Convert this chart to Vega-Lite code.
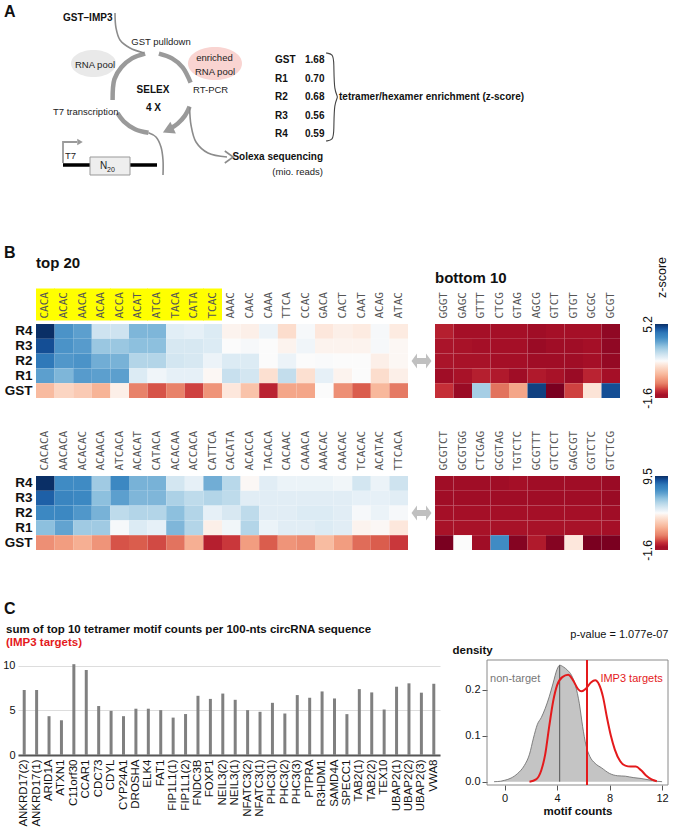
{
"$schema": "https://vega.github.io/schema/vega-lite/v6.json",
"padding": 0,
"background": "white",
"columns": 6,
"align": "none",
"bounds": "flush",
"spacing": {"row": 78, "column": 0},
"resolve": {"scale": {"color": "independent"}},
"config": {"view": {"stroke": null}, "font": "Liberation Sans", "axis": {"labelFont": "Liberation Sans", "titleFont": "Liberation Sans", "labelColor": "#111", "titleColor": "#111"}, "title": {"font": "Liberation Sans", "color": "#111"}},
"datasets": {
"t20a": [
{"round":"R4","CACA":5.2,"ACAC":3.84,"AACA":3.64,"ACAA":2.41,"ACCA":2.41,"ACAT":3.30,"ATCA":3.30,"TACA":2.14,"CATA":2.07,"TCAC":2.21,"AAAC":1.66,"CAAC":1.60,"CAAA":2.00,"TTCA":1.26,"CCAC":1.87,"GACA":1.46,"CACT":1.60,"CAAT":1.53,"ACAG":1.87,"ATAC":1.53},
{"round":"R3","CACA":4.86,"ACAC":3.84,"AACA":3.70,"ACAA":3.02,"ACCA":3.02,"ACAT":3.16,"ATCA":3.16,"TACA":2.28,"CATA":2.28,"TCAC":2.21,"AAAC":1.80,"CAAC":1.87,"CAAA":1.80,"TTCA":1.66,"CCAC":1.94,"GACA":1.66,"CACT":1.66,"CAAT":1.66,"ACAG":1.87,"ATAC":1.73},
{"round":"R2","CACA":4.38,"ACAC":3.77,"AACA":3.84,"ACAA":3.43,"ACCA":3.36,"ACAT":2.75,"ATCA":2.75,"TACA":2.34,"CATA":2.28,"TCAC":2.00,"AAAC":2.21,"CAAC":2.21,"CAAA":1.80,"TTCA":2.00,"CCAC":1.80,"GACA":1.83,"CACT":1.80,"CAAT":1.80,"ACAG":1.60,"ATAC":1.73},
{"round":"R1","CACA":3.64,"ACAC":3.30,"AACA":3.70,"ACAA":3.64,"ACCA":3.64,"ACAT":2.21,"ATCA":1.94,"TACA":2.07,"CATA":2.07,"TCAC":1.73,"AAAC":2.48,"CAAC":2.34,"CAAA":1.32,"TTCA":2.55,"CCAC":1.32,"GACA":2.07,"CACT":1.66,"CAAT":1.80,"ACAG":1.26,"ATAC":1.60},
{"round":"GST","CACA":0.64,"ACAC":1.12,"AACA":0.92,"ACAA":0.51,"ACCA":1.60,"ACAT":-0.24,"ATCA":-0.65,"TACA":-0.24,"CATA":-0.78,"TCAC":0.03,"AAAC":1.46,"CAAC":0.78,"CAAA":-1.06,"TTCA":0.30,"CCAC":0.30,"GACA":1.80,"CACT":-0.04,"CAAT":-0.58,"ACAG":0.58,"ATAC":-0.31}
],
"b10a": [
{"round":"R4","GGGT":-1.12,"GAGC":-1.33,"GTTT":-1.33,"CTCG":-1.33,"GTAG":-1.33,"AGCG":-1.36,"GTCT":-1.33,"GTGT":-1.33,"GCGC":-1.33,"GCGT":-1.46},
{"round":"R3","GGGT":-1.26,"GAGC":-1.29,"GTTT":-1.33,"CTCG":-1.33,"GTAG":-1.33,"AGCG":-1.40,"GTCT":-1.36,"GTGT":-1.36,"GCGC":-1.33,"GCGT":-1.46},
{"round":"R2","GGGT":-1.26,"GAGC":-1.29,"GTTT":-1.29,"CTCG":-1.33,"GTAG":-1.33,"AGCG":-1.36,"GTCT":-1.36,"GTGT":-1.36,"GCGC":-1.33,"GCGT":-1.43},
{"round":"R1","GGGT":-1.36,"GAGC":-1.29,"GTTT":-1.12,"CTCG":-1.19,"GTAG":-1.36,"AGCG":-1.19,"GTCT":-1.29,"GTGT":-1.40,"GCGC":-1.06,"GCGT":-1.33},
{"round":"GST","GGGT":-0.92,"GAGC":-1.40,"GTTT":2.89,"CTCG":-0.38,"GTAG":0.30,"AGCG":5.00,"GTCT":-1.60,"GTGT":-0.78,"GCGC":1.39,"GCGT":4.86}
],
"t20b": [
{"round":"R4","CACACA":9.5,"AACACA":7.50,"ACACAC":7.50,"ACAACA":5.84,"ATCACA":7.61,"ACACAT":6.50,"CATACA":6.50,"ACACAA":4.84,"ACCACA":4.39,"CATTCA":6.61,"CACATA":5.39,"ACACCA":3.84,"TACACA":4.51,"CACAAC":4.28,"CAAACA":4.28,"AAACAC":4.28,"CAACAC":4.17,"TCACAC":4.84,"ACATAC":4.28,"TTCACA":4.95},
{"round":"R3","CACACA":8.61,"AACACA":7.72,"ACACAC":7.61,"ACAACA":6.17,"ATCACA":6.95,"ACACAT":6.39,"CATACA":6.39,"ACACAA":5.62,"ACCACA":5.28,"CATTCA":5.50,"CACATA":5.28,"ACACCA":4.51,"TACACA":4.51,"CACAAC":4.51,"CAAACA":4.51,"AAACAC":4.51,"CAACAC":4.51,"TCACAC":4.39,"ACATAC":4.39,"TTCACA":4.51},
{"round":"R2","CACACA":7.61,"AACACA":7.61,"ACACAC":7.17,"ACAACA":6.50,"ATCACA":5.28,"ACACAT":5.50,"CATACA":5.50,"ACACAA":6.17,"ACCACA":5.50,"CATTCA":4.39,"CACATA":4.73,"ACACCA":5.28,"TACACA":4.51,"CACAAC":4.51,"CAAACA":4.62,"AAACAC":4.62,"CAACAC":4.51,"TCACAC":4.06,"ACATAC":4.28,"TTCACA":4.06},
{"round":"R1","CACACA":6.17,"AACACA":6.84,"ACACAC":5.84,"ACAACA":5.84,"ATCACA":4.06,"ACACAT":4.62,"CATACA":4.39,"ACACAA":6.39,"ACCACA":5.50,"CATTCA":3.62,"CACATA":4.17,"ACACCA":5.50,"TACACA":4.28,"CACAAC":4.51,"CAAACA":4.51,"AAACAC":4.62,"CAACAC":4.51,"TCACAC":3.73,"ACATAC":3.84,"TTCACA":3.40},
{"round":"GST","CACACA":0.95,"AACACA":1.29,"ACACAC":1.73,"ACAACA":1.06,"ATCACA":-0.05,"ACACAT":0.07,"CATACA":-0.16,"ACACAA":0.40,"ACCACA":1.73,"CATTCA":-0.82,"CACATA":-0.38,"ACACCA":1.29,"TACACA":0.07,"CACAAC":1.06,"CAAACA":0.84,"AAACAC":2.06,"CAACAC":1.29,"TCACAC":0.29,"ACATAC":0.07,"TTCACA":-0.38}
],
"b10b": [
{"round":"R4","GCGTCT":-1.21,"GCGTGG":-1.21,"CTCGAG":-1.21,"GCGTAG":-1.21,"TGTCTC":-1.16,"GCGTTT":-1.21,"GTCTCT":-1.21,"GAGCGT":-1.21,"CGTCTC":-1.21,"GTCTCG":-1.27},
{"round":"R3","GCGTCT":-1.21,"GCGTGG":-1.21,"CTCGAG":-1.21,"GCGTAG":-1.21,"TGTCTC":-1.21,"GCGTTT":-1.21,"GTCTCT":-1.21,"GAGCGT":-1.21,"CGTCTC":-1.21,"GTCTCG":-1.27},
{"round":"R2","GCGTCT":-1.16,"GCGTGG":-1.16,"CTCGAG":-1.16,"GCGTAG":-1.16,"TGTCTC":-1.16,"GCGTTT":-1.16,"GTCTCT":-1.16,"GAGCGT":-1.16,"CGTCTC":-1.16,"GTCTCG":-1.21},
{"round":"R1","GCGTCT":-1.10,"GCGTGG":-1.10,"CTCGAG":-1.10,"GCGTAG":-1.10,"TGTCTC":-1.10,"GCGTTT":-1.10,"GTCTCT":-1.10,"GAGCGT":-1.10,"CGTCTC":-1.10,"GTCTCG":-1.16},
{"round":"GST","GCGTCT":-1.60,"GCGTGG":3.95,"CTCGAG":-1.21,"GCGTAG":7.50,"TGTCTC":-1.49,"GCGTTT":-0.93,"GTCTCT":-1.49,"GAGCGT":3.40,"CGTCTC":-1.60,"GTCTCG":-1.60}
],
"bars": [
{"gene":"ANKRD17(2)","count":7.3},{"gene":"ANKRD17(1)","count":7.3},{"gene":"ARID1A","count":4.36},{"gene":"ATXN1","count":3.9},{"gene":"C11orf30","count":10.2},{"gene":"CCAR1","count":9.55},{"gene":"CDC73","count":5.5},{"gene":"CDYL","count":4.96},{"gene":"CYP24A1","count":4.36},{"gene":"DROSHA","count":5.2},{"gene":"ELK4","count":5.2},{"gene":"FAT1","count":5.04},{"gene":"FIP1L1(1)","count":4.2},{"gene":"FIP1L1(2)","count":4.6},{"gene":"FNDC3B","count":6.65},{"gene":"FOXP1","count":6.3},{"gene":"NEIL3(2)","count":6.9},{"gene":"NEIL3(1)","count":6.2},{"gene":"NFATC3(2)","count":5.04},{"gene":"NFATC3(1)","count":4.85},{"gene":"PHC3(1)","count":5.86},{"gene":"PHC3(2)","count":4.66},{"gene":"PHC3(3)","count":6.73},{"gene":"PTPRA","count":6.43},{"gene":"R3HDM1","count":7.14},{"gene":"SAMD4A","count":6.35},{"gene":"SPECC1","count":4.59},{"gene":"TAB2(1)","count":7.4},{"gene":"TAB2(2)","count":7.03},{"gene":"TEX10","count":5.11},{"gene":"UBAP2(1)","count":7.67},{"gene":"UBAP2(2)","count":8.05},{"gene":"UBAP2(3)","count":7.0},{"gene":"VWA8","count":8.0}
],
"nt": [
{"x":-0.8,"d":0.0},{"x":-0.3,"d":0.001},{"x":0.0,"d":0.003},{"x":0.5,"d":0.008},{"x":1.0,"d":0.018},{"x":1.5,"d":0.035},{"x":1.9,"d":0.06},{"x":2.2,"d":0.095},{"x":2.5,"d":0.125},{"x":2.8,"d":0.14},{"x":3.1,"d":0.16},{"x":3.4,"d":0.185},{"x":3.7,"d":0.215},{"x":4.0,"d":0.245},{"x":4.2,"d":0.254},{"x":4.5,"d":0.25},{"x":4.8,"d":0.243},{"x":5.1,"d":0.232},{"x":5.4,"d":0.21},{"x":5.7,"d":0.17},{"x":5.95,"d":0.12},{"x":6.2,"d":0.08},{"x":6.5,"d":0.055},{"x":6.9,"d":0.04},{"x":7.4,"d":0.03},{"x":8.0,"d":0.018},{"x":8.6,"d":0.013},{"x":9.2,"d":0.012},{"x":9.8,"d":0.009},{"x":10.4,"d":0.007},{"x":11.0,"d":0.004},{"x":11.6,"d":0.001},{"x":12.0,"d":0.0}
],
"tg": [
{"x":1.9,"d":0.0},{"x":2.4,"d":0.005},{"x":2.8,"d":0.025},{"x":3.1,"d":0.06},{"x":3.4,"d":0.12},{"x":3.7,"d":0.175},{"x":4.0,"d":0.21},{"x":4.4,"d":0.228},{"x":4.85,"d":0.233},{"x":5.2,"d":0.222},{"x":5.6,"d":0.202},{"x":5.85,"d":0.197},{"x":6.2,"d":0.203},{"x":6.6,"d":0.217},{"x":6.9,"d":0.221},{"x":7.2,"d":0.212},{"x":7.5,"d":0.185},{"x":7.8,"d":0.14},{"x":8.1,"d":0.1},{"x":8.4,"d":0.07},{"x":8.8,"d":0.045},{"x":9.2,"d":0.035},{"x":9.6,"d":0.033},{"x":10.0,"d":0.033},{"x":10.4,"d":0.025},{"x":10.8,"d":0.013},{"x":11.2,"d":0.005},{"x":11.6,"d":0.001}
]
},
"concat": [
{
"width": 36, "height": 246,
"encoding": {
"x": {"field": "x", "type": "quantitative", "scale": {"domain": [0, 36], "nice": false, "zero": false}, "axis": null},
"y": {"field": "y", "type": "quantitative", "scale": {"domain": [0, 246], "reverse": true, "nice": false, "zero": false}, "axis": null}
},
"layer": [
{"data": {"values": [{"x": 93.5, "y": 63.5}]}, "mark": {"type": "point", "shape": "M-1,0A1,0.6,0,1,0,1,0A1,0.6,0,1,0,-1,0Z", "size": 2025, "filled": true, "color": "#e9e9e9", "opacity": 1, "strokeWidth": 0}},
{"data": {"values": [{"x": 215, "y": 63.5}]}, "mark": {"type": "point", "shape": "M-1,0A1,0.61,0,1,0,1,0A1,0.61,0,1,0,-1,0Z", "size": 2916, "filled": true, "color": "#f9d4d1", "opacity": 1, "strokeWidth": 0}},
{"data": {"values": [
{"seg":"a1","i":0,"x":145.1,"y":53.6},{"seg":"a1","i":1,"x":132,"y":58.4},{"seg":"a1","i":2,"x":121.4,"y":67.3},{"seg":"a1","i":3,"x":114.4,"y":79.3},{"seg":"a1","i":4,"x":112.6,"y":99.9},
{"seg":"a2","i":0,"x":158.9,"y":53.6},{"seg":"a2","i":1,"x":172,"y":58.4},{"seg":"a2","i":2,"x":182.6,"y":67.3},{"seg":"a2","i":3,"x":190.6,"y":82.6},
{"seg":"a3","i":0,"x":189.6,"y":106.7},{"seg":"a3","i":1,"x":184.8,"y":115.9},{"seg":"a3","i":2,"x":177.7,"y":123.6},{"seg":"a3","i":3,"x":170.8,"y":128.3},
{"seg":"a4","i":0,"x":148.5,"y":132.8},{"seg":"a4","i":1,"x":135.1,"y":129.2},{"seg":"a4","i":2,"x":123.7,"y":121.3},{"seg":"a4","i":3,"x":117.4,"y":113}
]}, "mark": {"type": "line", "color": "#9a9a9a", "strokeWidth": 4.5, "interpolate": "catmull-rom", "strokeCap": "butt"}, "encoding": {"detail": {"field": "seg"}, "order": {"field": "i"}}},
{"data": {"values": [
{"seg":"g","i":0,"x":115,"y":13},{"seg":"g","i":1,"x":116,"y":28},{"seg":"g","i":2,"x":120,"y":40},{"seg":"g","i":3,"x":130,"y":48},{"seg":"g","i":4,"x":144,"y":53},
{"seg":"b","i":0,"x":148.5,"y":132.8},{"seg":"b","i":1,"x":156,"y":137},{"seg":"b","i":2,"x":161,"y":147},{"seg":"b","i":3,"x":163,"y":160},{"seg":"b","i":4,"x":163,"y":175},
{"seg":"s","i":0,"x":189.6,"y":106.7},{"seg":"s","i":1,"x":191,"y":125},{"seg":"s","i":2,"x":196,"y":142},{"seg":"s","i":3,"x":208,"y":153},{"seg":"s","i":4,"x":227,"y":157}
]}, "mark": {"type": "line", "color": "#8c8c8c", "strokeWidth": 1.6, "interpolate": "catmull-rom"}, "encoding": {"detail": {"field": "seg"}, "order": {"field": "i"}}},
{"data": {"values": [{"i":0,"x":63,"y":163},{"i":1,"x":63,"y":142},{"i":2,"x":77,"y":142}]}, "mark": {"type": "line", "color": "#9a9a9a", "strokeWidth": 1.8}, "encoding": {"order": {"field": "i"}}},
{"data": {"values": [{"i":0,"x":63,"y":165},{"i":1,"x":157,"y":165}]}, "mark": {"type": "line", "color": "#000000", "strokeWidth": 3.5}, "encoding": {"order": {"field": "i"}}},
{"data": {"values": [{"x":90,"x2":130,"y":157,"y2":175}]}, "mark": {"type": "rect", "fill": "#eeeeee", "stroke": "#999999", "strokeWidth": 1}, "encoding": {"x2": {"field": "x2"}, "y2": {"field": "y2"}}},
{"data": {"values": [{"i":0,"x":326,"y":53},{"i":1,"x":333,"y":54},{"i":2,"x":334,"y":62},{"i":3,"x":334,"y":92},{"i":4,"x":339,"y":97},{"i":5,"x":334,"y":102},{"i":6,"x":334,"y":132},{"i":7,"x":333,"y":140},{"i":8,"x":326,"y":141}]}, "mark": {"type": "line", "color": "#444444", "strokeWidth": 1.1, "interpolate": "basis"}, "encoding": {"order": {"field": "i"}}},
{"data": {"values": [{"x":168,"y":130}]}, "mark": {"type": "point", "shape": "triangle-up", "size": 170, "filled": true, "color": "#9a9a9a", "opacity": 1}, "encoding": {"angle": {"value": 245}}},
{"data": {"values": [{"x":80,"y":142}]}, "mark": {"type": "point", "shape": "triangle-right", "size": 40, "filled": true, "color": "#9a9a9a", "opacity": 1}},
{"data": {"values": [{"x":229,"y":157}]}, "mark": {"type": "point", "shape": "M-0.7,-1L0.7,0L-0.7,1", "size": 144, "filled": false, "color": "#8c8c8c", "strokeWidth": 1.6, "opacity": 1}},
{"data": {"values": [{"x":161,"y":42,"t":"GST pulldown"},{"x":95,"y":65,"t":"RNA pool"},{"x":214.5,"y":58,"t":"enriched"},{"x":215,"y":72,"t":"RNA pool"}]}, "mark": {"type": "text", "fontSize": 9.5, "color": "#222", "align": "center", "baseline": "middle"}, "encoding": {"text": {"field": "t"}}},
{"data": {"values": [{"x":193,"y":90,"t":"RT-PCR"},{"x":53,"y":112,"t":"T7 transcription"},{"x":65,"y":156,"t":"T7"}]}, "mark": {"type": "text", "fontSize": 9.5, "color": "#222", "align": "left", "baseline": "middle"}, "encoding": {"text": {"field": "t"}}},
{"data": {"values": [{"x":323,"y":172,"t":"(mio. reads)"}]}, "mark": {"type": "text", "fontSize": 9.5, "color": "#222", "align": "right", "baseline": "middle"}, "encoding": {"text": {"field": "t"}}},
{"data": {"values": [{"x":103.5,"y":166,"t":"N"}]}, "mark": {"type": "text", "fontSize": 10, "color": "#222", "align": "center", "baseline": "middle"}, "encoding": {"text": {"field": "t"}}},
{"data": {"values": [{"x":111,"y":170,"t":"20"}]}, "mark": {"type": "text", "fontSize": 7, "color": "#222", "align": "center", "baseline": "middle"}, "encoding": {"text": {"field": "t"}}},
{"data": {"values": [{"x":63,"y":18,"t":"GST–IMP3"},{"x":275,"y":60,"t":"GST"},{"x":275,"y":79,"t":"R1"},{"x":275,"y":97,"t":"R2"},{"x":275,"y":116,"t":"R3"},{"x":275,"y":134,"t":"R4"},{"x":305,"y":60,"t":"1.68"},{"x":305,"y":79,"t":"0.70"},{"x":305,"y":97,"t":"0.68"},{"x":305,"y":116,"t":"0.56"},{"x":305,"y":134,"t":"0.59"},{"x":339,"y":97,"t":"tetramer/hexamer enrichment (z-score)"}]}, "mark": {"type": "text", "fontSize": 10, "fontWeight": "bold", "color": "#111", "align": "left", "baseline": "middle"}, "encoding": {"text": {"field": "t"}}},
{"data": {"values": [{"x":153,"y":90,"t":"SELEX"},{"x":153.5,"y":108,"t":"4 X"}]}, "mark": {"type": "text", "fontSize": 10, "fontWeight": "bold", "color": "#111", "align": "center", "baseline": "middle"}, "encoding": {"text": {"field": "t"}}},
{"data": {"values": [{"x":323,"y":157,"t":"Solexa sequencing"}]}, "mark": {"type": "text", "fontSize": 10, "fontWeight": "bold", "color": "#111", "align": "right", "baseline": "middle"}, "encoding": {"text": {"field": "t"}}},
{"data": {"values": [{"x":4,"y":12,"t":"A"},{"x":4,"y":253,"t":"B"},{"x":4,"y":609,"t":"C"}]}, "mark": {"type": "text", "fontSize": 16, "fontWeight": "bold", "color": "#111", "align": "left", "baseline": "middle"}, "encoding": {"text": {"field": "t"}}}
]
},
{"width": 0, "height": 246, "data": {"values": []}, "mark": "point"},
{"width": 0, "height": 246, "data": {"values": []}, "mark": "point"},
{"width": 0, "height": 246, "data": {"values": []}, "mark": "point"},
{"width": 0, "height": 246, "data": {"values": []}, "mark": "point"},
{"width": 0, "height": 246, "data": {"values": []}, "mark": "point"},

{"width": 36, "height": 74, "data": {"values": []}, "mark": "point"},
{
"width": 372, "height": 74,
"data": {"name": "t20a"},
"transform": [{"fold": ["CACA","ACAC","AACA","ACAA","ACCA","ACAT","ATCA","TACA","CATA","TCAC","AAAC","CAAC","CAAA","TTCA","CCAC","GACA","CACT","CAAT","ACAG","ATAC"], "as": ["motif", "z"]}],
"title": {"text": "top 20", "anchor": "start", "frame": "group", "fontSize": 15, "fontWeight": "bold", "offset": 8},
"mark": "rect",
"encoding": {
"x": {"field": "motif", "type": "nominal", "sort": ["CACA","ACAC","AACA","ACAA","ACCA","ACAT","ATCA","TACA","CATA","TCAC","AAAC","CAAC","CAAA","TTCA","CCAC","GACA","CACT","CAAT","ACAG","ATAC"], "scale": {"paddingInner": 0, "paddingOuter": 0},
 "axis": {"orient": "top", "title": null, "domain": false, "offset": 4, "tickSize": 32, "tickWidth": 19, "tickColor": {"condition": {"test": "indexof(['CACA','ACAC','AACA','ACAA','ACCA','ACAT','ATCA','TACA','CATA','TCAC'], datum.value) >= 0", "value": "#ffff00"}, "value": "rgba(0,0,0,0)"}, "labelAngle": 270, "labelAlign": "left", "labelBaseline": "middle", "labelPadding": -30, "labelFont": "DejaVu Sans Mono", "labelFontSize": 11, "labelColor": "#555"}},
"y": {"field": "round", "type": "nominal", "sort": ["R4","R3","R2","R1","GST"], "scale": {"paddingInner": 0, "paddingOuter": 0}, "axis": {"title": null, "ticks": false, "tickSize": 0, "domain": false, "labelFontWeight": "bold", "labelFontSize": 13.5, "labelPadding": 4}},
"color": {"field": "z", "type": "quantitative", "scale": {"domain": [-1.6,-1.328,-0.92,-0.58,-0.24,0.168,0.576,1.12,1.528,1.8,2.072,2.344,2.752,3.16,3.568,3.976,4.384,4.792,5.2], "range": ["#7a0020","#a50f27","#c52e37","#da5d4d","#e8826a","#f29d80","#f8b89c","#fbd5c2","#fdebe1","#fbfbfb","#e6f0f7","#d3e6f1","#b3d5e8","#8dc0de","#62a3d0","#3f8bc4","#2f79b9","#16549e","#0a2f66"], "interpolate": "rgb"}, "legend": null}
}
},
{"width": 27, "height": 74, "data": {"values": [{"k": 1}]}, "mark": {"type": "point", "shape": "M-1,0L-0.45,-0.75L-0.45,-0.3L0.45,-0.3L0.45,-0.75L1,0L0.45,0.75L0.45,0.3L-0.45,0.3L-0.45,0.75Z", "size": 400, "filled": true, "color": "#c0c0c0", "opacity": 1}},
{
"width": 185, "height": 74,
"data": {"name": "b10a"},
"transform": [{"fold": ["GGGT","GAGC","GTTT","CTCG","GTAG","AGCG","GTCT","GTGT","GCGC","GCGT"], "as": ["motif", "z"]}],
"title": {"text": "bottom 10", "anchor": "start", "frame": "group", "fontSize": 15, "fontWeight": "bold", "offset": 6},
"mark": "rect",
"encoding": {
"x": {"field": "motif", "type": "nominal", "sort": ["GGGT","GAGC","GTTT","CTCG","GTAG","AGCG","GTCT","GTGT","GCGC","GCGT"], "scale": {"paddingInner": 0, "paddingOuter": 0},
 "axis": {"orient": "top", "title": null, "domain": false, "ticks": false, "tickSize": 0, "labelAngle": 270, "labelAlign": "left", "labelBaseline": "middle", "labelPadding": 6, "labelFont": "DejaVu Sans Mono", "labelFontSize": 11, "labelColor": "#555"}},
"y": {"field": "round", "type": "nominal", "sort": ["R4","R3","R2","R1","GST"], "scale": {"paddingInner": 0, "paddingOuter": 0}, "axis": null},
"color": {"field": "z", "type": "quantitative", "scale": {"domain": [-1.6,-1.328,-0.92,-0.58,-0.24,0.168,0.576,1.12,1.528,1.8,2.072,2.344,2.752,3.16,3.568,3.976,4.384,4.792,5.2], "range": ["#7a0020","#a50f27","#c52e37","#da5d4d","#e8826a","#f29d80","#f8b89c","#fbd5c2","#fdebe1","#fbfbfb","#e6f0f7","#d3e6f1","#b3d5e8","#8dc0de","#62a3d0","#3f8bc4","#2f79b9","#16549e","#0a2f66"], "interpolate": "rgb"}, "legend": null}
}
},
{"width": 35, "height": 74, "data": {"values": []}, "mark": "point"},
{
"width": 13, "height": 74,
"data": {"values": [{"lo": -1.6, "hi": 5.2}]},
"mark": {"type": "rect", "color": {"gradient": "linear", "x1": 0, "y1": 1, "x2": 0, "y2": 0, "stops": [{"offset":0,"color":"#a3152b"},{"offset":0.04,"color":"#a50f27"},{"offset":0.1,"color":"#c52e37"},{"offset":0.15,"color":"#da5d4d"},{"offset":0.2,"color":"#e8826a"},{"offset":0.26,"color":"#f29d80"},{"offset":0.32,"color":"#f8b89c"},{"offset":0.4,"color":"#fbd5c2"},{"offset":0.46,"color":"#fdebe1"},{"offset":0.5,"color":"#fbfbfb"},{"offset":0.54,"color":"#e6f0f7"},{"offset":0.58,"color":"#d3e6f1"},{"offset":0.64,"color":"#b3d5e8"},{"offset":0.7,"color":"#8dc0de"},{"offset":0.76,"color":"#62a3d0"},{"offset":0.82,"color":"#3f8bc4"},{"offset":0.88,"color":"#2f79b9"},{"offset":0.94,"color":"#16549e"},{"offset":1,"color":"#0a2f66"}]}},
"encoding": {
"y": {"field": "lo", "type": "quantitative", "scale": {"domain": [-1.6, 5.2], "nice": false, "zero": false},
 "axis": {"values": [-1.6, 5.2], "labelExpr": "toString(datum.value)", "labelAngle": 270, "labelAlign": "center", "labelBaseline": "alphabetic", "labelPadding": 4, "labelFontSize": 12, "labelFlush": false, "labelOverlap": false, "ticks": false, "tickSize": 0, "domain": false, "grid": false, "title": "z-score", "titleAngle": 270, "titleX": 6.5, "titleY": -47, "titleAlign": "center", "titleBaseline": "middle", "titleFontWeight": "normal", "titleFontSize": 12.5}},
"y2": {"field": "hi"}
}
},

{"width": 36, "height": 106, "data": {"values": []}, "mark": "point"},
{
"width": 372, "height": 74,
"data": {"name": "t20b"},
"transform": [{"fold": ["CACACA","AACACA","ACACAC","ACAACA","ATCACA","ACACAT","CATACA","ACACAA","ACCACA","CATTCA","CACATA","ACACCA","TACACA","CACAAC","CAAACA","AAACAC","CAACAC","TCACAC","ACATAC","TTCACA"], "as": ["motif", "z"]}],
"mark": "rect",
"encoding": {
"x": {"field": "motif", "type": "nominal", "sort": ["CACACA","AACACA","ACACAC","ACAACA","ATCACA","ACACAT","CATACA","ACACAA","ACCACA","CATTCA","CACATA","ACACCA","TACACA","CACAAC","CAAACA","AAACAC","CAACAC","TCACAC","ACATAC","TTCACA"], "scale": {"paddingInner": 0, "paddingOuter": 0},
 "axis": {"orient": "top", "title": null, "domain": false, "ticks": false, "tickSize": 0, "labelAngle": 270, "labelAlign": "left", "labelBaseline": "middle", "labelPadding": 6, "labelFont": "DejaVu Sans Mono", "labelFontSize": 11, "labelColor": "#555"}},
"y": {"field": "round", "type": "nominal", "sort": ["R4","R3","R2","R1","GST"], "scale": {"paddingInner": 0, "paddingOuter": 0}, "axis": {"title": null, "ticks": false, "tickSize": 0, "domain": false, "labelFontWeight": "bold", "labelFontSize": 13.5, "labelPadding": 4}},
"color": {"field": "z", "type": "quantitative", "scale": {"domain": [-1.6,-1.156,-0.49,0.065,0.62,1.286,1.952,2.84,3.506,3.95,4.394,4.838,5.504,6.17,6.836,7.502,8.168,8.834,9.5], "range": ["#7a0020","#a50f27","#c52e37","#da5d4d","#e8826a","#f29d80","#f8b89c","#fbd5c2","#fdebe1","#fbfbfb","#e6f0f7","#d3e6f1","#b3d5e8","#8dc0de","#62a3d0","#3f8bc4","#2f79b9","#16549e","#0a2f66"], "interpolate": "rgb"}, "legend": null}
}
},
{"width": 27, "height": 74, "data": {"values": [{"k": 1}]}, "mark": {"type": "point", "shape": "M-1,0L-0.45,-0.75L-0.45,-0.3L0.45,-0.3L0.45,-0.75L1,0L0.45,0.75L0.45,0.3L-0.45,0.3L-0.45,0.75Z", "size": 400, "filled": true, "color": "#c0c0c0", "opacity": 1}},
{
"width": 185, "height": 74,
"data": {"name": "b10b"},
"transform": [{"fold": ["GCGTCT","GCGTGG","CTCGAG","GCGTAG","TGTCTC","GCGTTT","GTCTCT","GAGCGT","CGTCTC","GTCTCG"], "as": ["motif", "z"]}],
"mark": "rect",
"encoding": {
"x": {"field": "motif", "type": "nominal", "sort": ["GCGTCT","GCGTGG","CTCGAG","GCGTAG","TGTCTC","GCGTTT","GTCTCT","GAGCGT","CGTCTC","GTCTCG"], "scale": {"paddingInner": 0, "paddingOuter": 0},
 "axis": {"orient": "top", "title": null, "domain": false, "ticks": false, "tickSize": 0, "labelAngle": 270, "labelAlign": "left", "labelBaseline": "middle", "labelPadding": 6, "labelFont": "DejaVu Sans Mono", "labelFontSize": 11, "labelColor": "#555"}},
"y": {"field": "round", "type": "nominal", "sort": ["R4","R3","R2","R1","GST"], "scale": {"paddingInner": 0, "paddingOuter": 0}, "axis": null},
"color": {"field": "z", "type": "quantitative", "scale": {"domain": [-1.6,-1.156,-0.49,0.065,0.62,1.286,1.952,2.84,3.506,3.95,4.394,4.838,5.504,6.17,6.836,7.502,8.168,8.834,9.5], "range": ["#7a0020","#a50f27","#c52e37","#da5d4d","#e8826a","#f29d80","#f8b89c","#fbd5c2","#fdebe1","#fbfbfb","#e6f0f7","#d3e6f1","#b3d5e8","#8dc0de","#62a3d0","#3f8bc4","#2f79b9","#16549e","#0a2f66"], "interpolate": "rgb"}, "legend": null}
}
},
{"width": 35, "height": 74, "data": {"values": []}, "mark": "point"},
{
"width": 13, "height": 74,
"data": {"values": [{"lo": -1.6, "hi": 9.5}]},
"mark": {"type": "rect", "color": {"gradient": "linear", "x1": 0, "y1": 1, "x2": 0, "y2": 0, "stops": [{"offset":0,"color":"#a3152b"},{"offset":0.04,"color":"#a50f27"},{"offset":0.1,"color":"#c52e37"},{"offset":0.15,"color":"#da5d4d"},{"offset":0.2,"color":"#e8826a"},{"offset":0.26,"color":"#f29d80"},{"offset":0.32,"color":"#f8b89c"},{"offset":0.4,"color":"#fbd5c2"},{"offset":0.46,"color":"#fdebe1"},{"offset":0.5,"color":"#fbfbfb"},{"offset":0.54,"color":"#e6f0f7"},{"offset":0.58,"color":"#d3e6f1"},{"offset":0.64,"color":"#b3d5e8"},{"offset":0.7,"color":"#8dc0de"},{"offset":0.76,"color":"#62a3d0"},{"offset":0.82,"color":"#3f8bc4"},{"offset":0.88,"color":"#2f79b9"},{"offset":0.94,"color":"#16549e"},{"offset":1,"color":"#0a2f66"}]}},
"encoding": {
"y": {"field": "lo", "type": "quantitative", "scale": {"domain": [-1.6, 9.5], "nice": false, "zero": false},
 "axis": {"values": [-1.6, 9.5], "labelExpr": "toString(datum.value)", "labelAngle": 270, "labelAlign": "center", "labelBaseline": "alphabetic", "labelPadding": 4, "labelFontSize": 12, "labelFlush": false, "labelOverlap": false, "ticks": false, "tickSize": 0, "domain": false, "grid": false, "title": null}},
"y2": {"field": "hi"}
}
},

{
"width": 36, "height": 95,
"data": {"name": "bars"},
"title": {"text": "sum of top 10 tetramer motif counts per 100-nts circRNA sequence", "subtitle": "(IMP3 targets)", "anchor": "start", "frame": "bounds", "dx": 6, "fontSize": 11.5, "fontWeight": "bold", "subtitleColor": "#e41a1c", "subtitleFontWeight": "bold", "subtitleFontSize": 11.5, "subtitleFont": "Liberation Sans", "subtitlePadding": 2, "offset": 11},
"mark": {"type": "bar", "color": "#808080", "size": 3},
"encoding": {
"x": {"field": "gene", "type": "nominal", "sort": null, "scale": {"range": [18, 440], "paddingInner": 0, "paddingOuter": 0}, "axis": {"title": null, "labelAngle": 270, "ticks": false, "tickSize": 0, "domainColor": "#555", "domainWidth": 2, "labelFontSize": 11.5, "labelPadding": 4}},
"y": {"field": "count", "type": "quantitative", "scale": {"domain": [0, 10.67], "nice": false, "zero": false}, "axis": {"title": null, "offset": -18, "values": [0, 5, 10], "grid": true, "gridColor": "#dddddd", "ticks": false, "tickSize": 0, "domain": false, "labelPadding": 3, "labelFontSize": 11}}
}
},
{"width": 0, "height": 0, "data": {"values": []}, "mark": "point"},
{"width": 0, "height": 0, "data": {"values": []}, "mark": "point"},
{
"width": 185, "height": 125,
"title": {"text": "p-value = 1.077e-07", "anchor": "end", "frame": "bounds", "fontSize": 11, "fontWeight": "normal", "offset": 4},
"encoding": {
"x": {"field": "x", "type": "quantitative", "scale": {"domain": [-1.336, 12.45], "range": [52, 233], "nice": false, "zero": false}, "axis": {"values": [0, 4, 8, 12], "title": "motif counts", "titleFontWeight": "bold", "titleFontSize": 11.5, "titlePadding": 2, "labelFontSize": 11, "tickSize": 5, "tickColor": "#555", "domain": false, "grid": false, "labelPadding": 2, "labelFlush": false}},
"y": {"field": "d", "type": "quantitative", "scale": {"domain": [-0.0072, 0.2654], "nice": false, "zero": false}, "axis": {"offset": -52, "values": [0, 0.1, 0.2], "format": ".1f", "title": "density", "titleAngle": 0, "titleAlign": "left", "titleBaseline": "middle", "titleX": -35, "titleY": -10, "titleFontWeight": "bold", "titleFontSize": 11.5, "labelFontSize": 11, "tickSize": 5, "tickColor": "#555", "domain": false, "grid": false, "labelPadding": 2, "labelFlush": false}}
},
"layer": [
{"data": {"values": [{"x": -1.336, "x2": 12.45, "d": -0.0072, "d2": 0.2654}]}, "mark": {"type": "rect", "fill": "#ffffff", "fillOpacity": 0, "stroke": "#8a8a8a", "strokeWidth": 1}, "encoding": {"x2": {"field": "x2"}, "y2": {"field": "d2"}}},
{"data": {"name": "nt"}, "mark": {"type": "area", "color": "#c4c4c4", "opacity": 1, "interpolate": "monotone", "line": {"color": "#666666", "strokeWidth": 0.8}}},
{"data": {"values": [{"x": 4.2, "d": 0, "d2": 0.254}]}, "mark": {"type": "rule", "color": "#555555", "strokeWidth": 1}, "encoding": {"y2": {"field": "d2"}}},
{"data": {"name": "tg"}, "mark": {"type": "line", "color": "#e41a1c", "strokeWidth": 2, "interpolate": "monotone"}},
{"data": {"values": [{"x": 6.28}]}, "mark": {"type": "rule", "color": "#e41a1c", "strokeWidth": 2}, "encoding": {"y": null}},
{"data": {"values": [{"x": -1.1, "d": 0.225, "t": "non-target"}]}, "mark": {"type": "text", "align": "left", "baseline": "middle", "fontSize": 11, "color": "#777777"}, "encoding": {"text": {"field": "t"}}},
{"data": {"values": [{"x": 7.3, "d": 0.225, "t": "IMP3 targets"}]}, "mark": {"type": "text", "align": "left", "baseline": "middle", "fontSize": 11, "color": "#e41a1c"}, "encoding": {"text": {"field": "t"}}}
]
},
{"width": 0, "height": 0, "data": {"values": []}, "mark": "point"},
{"width": 0, "height": 0, "data": {"values": []}, "mark": "point"}
]
}
